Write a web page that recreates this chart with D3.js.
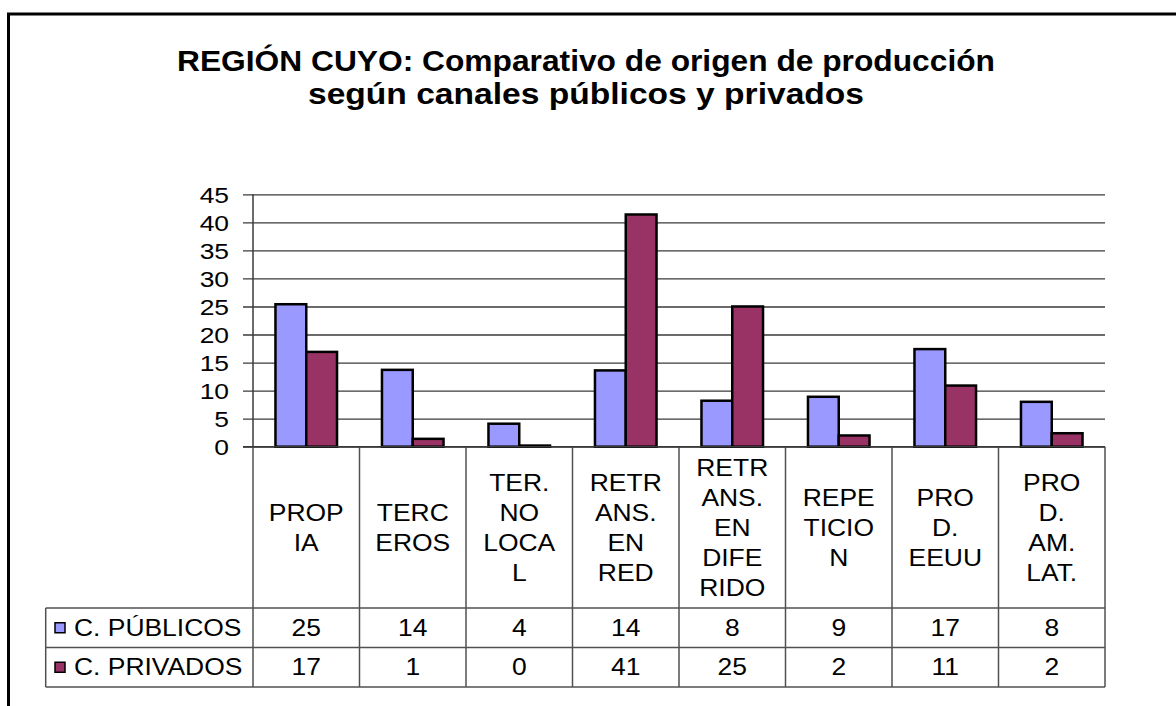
<!DOCTYPE html>
<html>
<head>
<meta charset="utf-8">
<script src="https://cdn.jsdelivr.net/npm/d3@7"></script>
<style>
  html, body { margin: 0; padding: 0; background: #fff; }
  svg { display: block; }
  text { font-family: "Liberation Sans", Arial, sans-serif; fill: #000; }
</style>
</head>
<body>
<svg id="chart" width="1176" height="706"></svg>
<script>
// ---- data ----
const categories = ["PROPIA", "TERCEROS", "TER. NO LOCAL", "RETRANS. EN RED",
  "RETRANS. EN DIFERIDO", "REPETICION", "PROD. EEUU", "PROD. AM. LAT."];
const categoryLines = [["PROP", "IA"], ["TERC", "EROS"], ["TER.", "NO", "LOCA", "L"],
  ["RETR", "ANS.", "EN", "RED"], ["RETR", "ANS.", "EN", "DIFE", "RIDO"],
  ["REPE", "TICIO", "N"], ["PRO", "D.", "EEUU"], ["PRO", "D.", "AM.", "LAT."]];
const seriesNames = ["C. PÚBLICOS", "C. PRIVADOS"];
const publicos = [25.4, 13.7, 4.1, 13.6, 8.2, 8.9, 17.4, 8.0];
const privados = [16.9, 1.4, 0.2, 41.4, 25.0, 2.0, 10.9, 2.4];
const yTicks = [0, 5, 10, 15, 20, 25, 30, 35, 40, 45];
const titleLines = ["REGIÓN CUYO: Comparativo de origen de producción",
  "según canales públicos y privados"];
const seriesColors = ["#9999FF", "#993366"];

// ---- layout ----
const svg = d3.select("#chart");
const W = 1176, H = 706;
const plotL = 253, plotR = 1105, plotT = 194.3, plotB = 446.7;
const legendL = 45.7;
const rowLines = [608, 647.5, 687];
const sx = 1.15; // horizontal text stretch of the reference

svg.append("rect").attr("width", W).attr("height", H).attr("fill", "#fff");
svg.append("rect").attr("x", 8.5).attr("y", 14).attr("width", 1220).attr("height", 740)
  .attr("fill", "#fff").attr("stroke", "#000").attr("stroke-width", 3);

// title
const titleX = 586;
[71, 104].forEach((by, i) => {
  svg.append("text").attr("x", titleX).attr("y", by)
    .attr("text-anchor", "middle")
    .attr("font-weight", "bold").attr("font-size", 29)
    .attr("textLength", i === 0 ? 818 : 556).attr("lengthAdjust", "spacingAndGlyphs")
    .text(titleLines[i]);
});

const x0 = d3.scaleBand().domain(categories).range([plotL, plotR]).padding(0);
const bw = x0.bandwidth();
const x1 = d3.scaleBand().domain(seriesNames).range([bw * 0.211, bw * 0.789]).padding(0);
const y = d3.scaleLinear().domain([0, 45]).range([plotB, plotT]);

// gridlines + ticks via axis
const axis = d3.axisLeft(y).tickValues(yTicks).tickSize(-(plotR - 243)).tickPadding(14);
const gAxis = svg.append("g").attr("transform", "translate(243,0)").call(axis);
gAxis.select(".domain").remove();
gAxis.selectAll(".tick line").attr("stroke", "#3a3a3a").attr("stroke-width", 1.3);
gAxis.selectAll(".tick text")
  .attr("x", null).attr("dy", null)
  .attr("transform", "translate(-14,7.8) scale(1.2,1)")
  .attr("font-size", 22).attr("font-family", "Liberation Sans, Arial, sans-serif")
  .attr("fill", "#000");

// bars
const series = [publicos, privados];
const gBars = svg.append("g");
categories.forEach((c, ci) => {
  seriesNames.forEach((s, si) => {
    const v = series[si][ci];
    gBars.append("rect")
      .attr("x", x0(c) + x1(s))
      .attr("y", y(v))
      .attr("width", x1.bandwidth())
      .attr("height", y(0) - y(v))
      .attr("fill", seriesColors[si])
      .attr("stroke", "#000").attr("stroke-width", 2.5);
  });
});

// table lines
const gT = svg.append("g").attr("stroke", "#505050").attr("stroke-width", 1.5);
categories.forEach(c => {
  gT.append("line").attr("x1", x0(c)).attr("x2", x0(c)).attr("y1", plotB).attr("y2", rowLines[2]);
});
gT.append("line").attr("x1", plotR).attr("x2", plotR).attr("y1", plotB).attr("y2", rowLines[2]);
gT.append("line").attr("x1", legendL).attr("x2", legendL).attr("y1", rowLines[0]).attr("y2", rowLines[2]);
rowLines.forEach(ry => {
  gT.append("line").attr("x1", legendL).attr("x2", plotR).attr("y1", ry).attr("y2", ry);
});
// y axis line
svg.append("line").attr("x1", plotL).attr("x2", plotL).attr("y1", plotT).attr("y2", plotB)
  .attr("stroke", "#3a3a3a").attr("stroke-width", 1.5);
// x axis (zero line)
svg.append("line").attr("x1", 243).attr("x2", plotR).attr("y1", plotB).attr("y2", plotB)
  .attr("stroke", "#3a3a3a").attr("stroke-width", 1.5);

function stretchText(g, x, yy, str, size, anchor) {
  g.append("text")
    .attr("transform", "translate(" + x + "," + yy + ") scale(" + sx + ",1)")
    .attr("text-anchor", anchor).attr("font-size", size).text(str);
}

// category labels
const gC = svg.append("g");
const headerCenter = 527.5, pitch = 30, cap = 8.2;
categories.forEach((c, ci) => {
  const lines = categoryLines[ci];
  const cx = x0(c) + bw / 2;
  const first = headerCenter - (lines.length - 1) * pitch / 2 + cap;
  lines.forEach((ln, li) => stretchText(gC, cx, first + li * pitch, ln, 23, "middle"));
});

// table values + legend
const fmt = d3.format(".0f");
const gV = svg.append("g");
seriesNames.forEach((s, si) => {
  const rc = (rowLines[si] + rowLines[si + 1]) / 2;
  gV.append("rect").attr("x", 55).attr("y", rc - 5).attr("width", 10).attr("height", 10)
    .attr("fill", seriesColors[si]).attr("stroke", "#000").attr("stroke-width", 1.5);
  stretchText(gV, 74, rc + cap, s, 23, "start");
  categories.forEach((c, ci) => {
    stretchText(gV, x0(c) + bw / 2, rc + cap, fmt(series[si][ci]), 23, "middle");
  });
});
</script>
</body>
</html>
